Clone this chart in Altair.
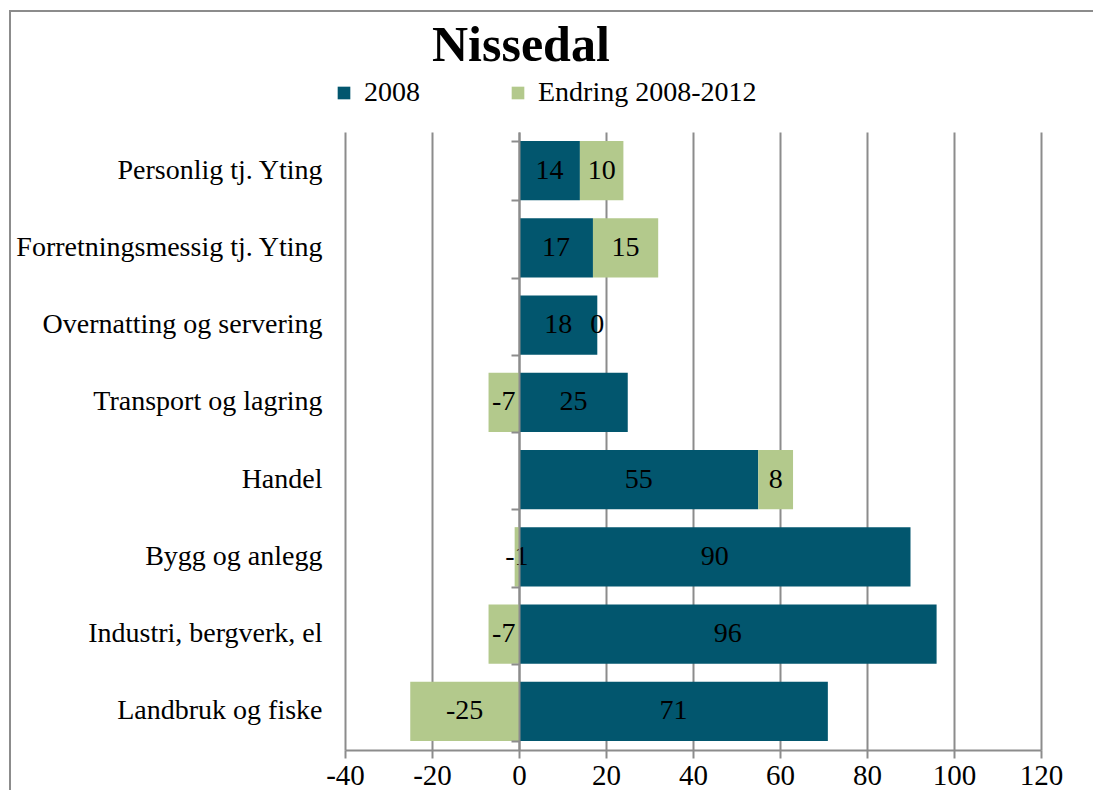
import altair as alt
import pandas as pd

categories = [
    "Personlig tj. Yting",
    "Forretningsmessig tj. Yting",
    "Overnatting og servering",
    "Transport og lagring",
    "Handel",
    "Bygg og anlegg",
    "Industri, bergverk, el",
    "Landbruk og fiske",
]
values_2008 = [14, 17, 18, 25, 55, 90, 96, 71]
values_change = [10, 15, 0, -7, 8, -1, -7, -25]
series = ["2008", "Endring 2008-2012"]
colors = ["#02566E", "#B3C98C"]
x_ticks = [-40, -20, 0, 20, 40, 60, 80, 100, 120]

FONT = "Liberation Serif"
GRAY = "#8C8C8C"
W, H = 696, 618

rows = []
for i, c in enumerate(categories):
    rows.append({"category": c, "series": series[0], "value": values_2008[i], "order": 0})
    rows.append({"category": c, "series": series[1], "value": values_change[i], "order": 1})
df = pd.DataFrame(rows)

xscale = alt.Scale(domain=[-40, 120], nice=False, zero=False)
yscale = alt.Scale(domain=categories, paddingInner=0.23, paddingOuter=0.115)

xaxis = alt.Axis(
    values=x_ticks, title=None, grid=True, gridColor=GRAY, gridWidth=2,
    domainColor=GRAY, domainWidth=2, tickColor=GRAY, tickWidth=2, tickSize=8,
    labelFont=FONT, labelFontSize=29, labelColor="black", labelPadding=3,
    labelFlush=False, labelOverlap=False,
    labelExpr="'' + datum.value",
)

base = alt.Chart(df).transform_stack(
    stack="value", groupby=["category"], as_=["x0", "x1"],
    sort=[alt.SortField("order", order="ascending")],
).transform_calculate(
    mid="(datum.x0 + datum.x1) / 2",
    label="'' + datum.value",
)

bars = base.mark_bar().encode(
    y=alt.Y("category:N", sort=categories, scale=yscale,
            axis=alt.Axis(title=None, ticks=False, domain=False, labelFont=FONT,
                          labelFontSize=28, labelColor="black", labelPadding=23,
                          labelLimit=500)),
    x=alt.X("x0:Q", scale=xscale, axis=xaxis),
    x2="x1:Q",
    color=alt.Color("series:N", scale=alt.Scale(domain=series, range=colors),
                    legend=alt.Legend(title=None, orient="none", direction="horizontal",
                                      legendX=-15, legendY=-53, symbolType="square",
                                      symbolSize=160, symbolStrokeWidth=0,
                                      labelFont=FONT, labelFontSize=28, labelColor="black",
                                      labelOffset=6, columnPadding=84, labelLimit=500)),
)

labels = base.mark_text(font=FONT, fontSize=28, color="black").encode(
    y=alt.Y("category:N", sort=categories, scale=yscale,
            axis=alt.Axis(orient="left", offset=-174, labels=False, title=None,
                          ticks=True, tickBand="extent", tickSize=8, tickColor=GRAY,
                          tickWidth=2, domain=True, domainColor=GRAY, domainWidth=2,
                          grid=False, zindex=1)),
    x=alt.X("mid:Q", scale=xscale, axis=xaxis),
    text="label:N",
)

frame_df = pd.DataFrame({"a": [0]})
left_border = alt.Chart(frame_df).mark_rule(color=GRAY, strokeWidth=2).encode(
    x=alt.value(-335), y=alt.value(-121), y2=alt.value(H + 60))
top_border = alt.Chart(frame_df).mark_rule(color=GRAY, strokeWidth=2).encode(
    x=alt.value(-336), x2=alt.value(W + 80), y=alt.value(-121))

chart = alt.layer(bars, labels, left_border, top_border).resolve_axis(
    y="independent"
).properties(
    width=W, height=H,
    autosize=alt.AutoSizeParams(type="none"),
    padding={"left": 337, "top": 124, "right": 52, "bottom": 40},
    title=alt.TitleParams("Nissedal", font=FONT, fontSize=50, fontWeight="bold",
                          color="black", anchor="start", frame="group", dx=87,
                          offset=-61),
).configure_view(stroke=None)

chart.save("out.html", embed_options={"renderer": "svg", "actions": False})
